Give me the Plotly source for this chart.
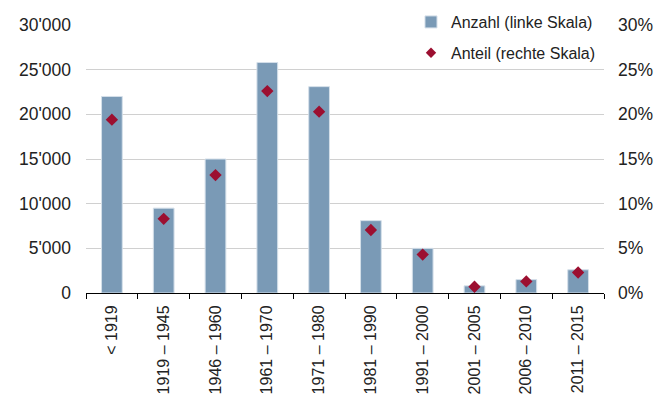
import plotly.graph_objects as go

categories = ["< 1919", "1919 – 1945", "1946 – 1960", "1961 – 1970", "1971 – 1980",
              "1981 – 1990", "1991 – 2000", "2001 – 2005", "2006 – 2010", "2011 – 2015"]
anzahl = [22000, 9500, 15000, 25800, 23100, 8100, 5000, 800, 1500, 2600]
anteil = [0.194, 0.083, 0.132, 0.226, 0.203, 0.0705, 0.043, 0.007, 0.013, 0.023]

left_ticks = [0, 5000, 10000, 15000, 20000, 25000, 30000]
left_labels = ["0", "5'000", "10'000", "15'000", "20'000", "25'000", "30'000"]
right_ticks = [0, 0.05, 0.10, 0.15, 0.20, 0.25, 0.30]
right_labels = ["0%", "5%", "10%", "15%", "20%", "25%", "30%"]

FONT = "Liberation Sans, Arial, Helvetica, sans-serif"
BAR_COLOR = "#7a9ab6"
DOT_COLOR = "#9c0f30"

fig = go.Figure()
fig.add_trace(go.Bar(
    x=categories, y=anzahl, name="Anzahl (linke Skala)",
    marker=dict(color=BAR_COLOR, line=dict(color="#d4dfe9", width=1)),
    yaxis="y", legendgroup="a",
))
fig.add_trace(go.Scatter(
    x=categories, y=anteil, name="Anteil (rechte Skala)", mode="markers",
    marker=dict(symbol="diamond", color=DOT_COLOR, size=9.5),
    yaxis="y2", legendgroup="b", showlegend=False,
))
# legend entry with a smaller diamond, as in the reference
fig.add_trace(go.Scatter(
    x=[categories[0]], y=[None], name="Anteil (rechte Skala)", mode="markers",
    marker=dict(symbol="diamond", color=DOT_COLOR, size=8),
    yaxis="y2", legendgroup="b", showlegend=True, hoverinfo="skip",
))

# white patch hiding the top gridline behind the legend (as in the reference)
fig.add_shape(type="rect", xref="paper", yref="paper",
              x0=0.641, x1=1.0, y0=0.97, y1=1.03,
              fillcolor="white", line=dict(width=0), layer="between")

fig.update_layout(
    width=656, height=401,
    margin=dict(l=86, r=52, t=25, b=108, autoexpand=False),
    paper_bgcolor="white", plot_bgcolor="white",
    font=dict(family=FONT, size=16, color="#222222"),
    bargap=0.6,
    showlegend=True,
    legend=dict(x=0.6274, y=1.0745, xanchor="left", yanchor="top",
                bgcolor="rgba(0,0,0,0)", font=dict(size=16, color="#222222"),
                traceorder="grouped", tracegroupgap=7),
    xaxis=dict(
        type="category", range=[-0.5, len(categories) - 0.5],
        showline=True, linecolor="black", linewidth=1,
        ticks="outside", tickson="boundaries", ticklen=5, tickcolor="black",
        tickangle=-90, showgrid=False, tickfont=dict(size=16),
        automargin=False, ticklabelstandoff=5,
    ),
    yaxis=dict(
        range=[0, 30000], tickvals=left_ticks, ticktext=left_labels,
        showgrid=True, gridcolor="#d0d0d0", gridwidth=1,
        zeroline=False, showline=False, ticks="",
        tickfont=dict(size=17.5), ticklabelstandoff=14, automargin=False,
    ),
    yaxis2=dict(
        range=[0, 0.30], tickvals=right_ticks, ticktext=right_labels,
        overlaying="y", side="right", showgrid=False, zeroline=False,
        showline=False, ticks="", tickfont=dict(size=17.5),
        ticklabelstandoff=13, automargin=False,
    ),
)

fig.write_html("out.html")
